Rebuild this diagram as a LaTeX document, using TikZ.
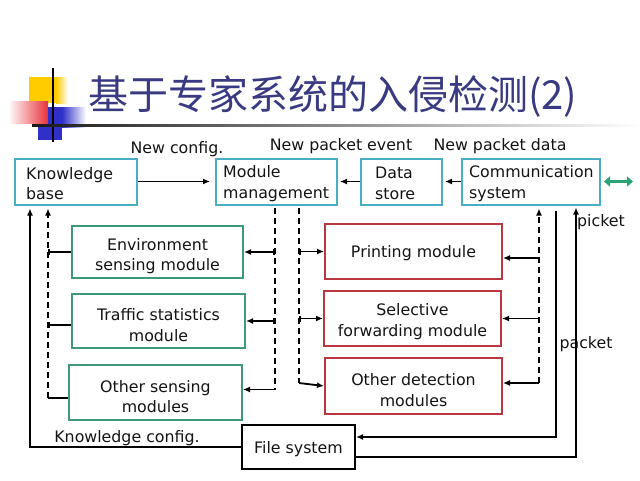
\documentclass[tikz,border=0pt]{standalone}
\usepackage{fontspec}
\setmainfont{DejaVu Sans}
\newfontfamily\cjk{Noto Sans CJK SC}
\usetikzlibrary{arrows.meta,calc}
\definecolor{teal1}{RGB}{75,172,198}
\definecolor{green1}{RGB}{62,152,122}
\definecolor{red1}{RGB}{185,55,62}
\definecolor{green2}{RGB}{40,165,115}
\definecolor{titlecol}{RGB}{58,58,130}
\definecolor{yel}{RGB}{255,204,0}
\definecolor{redl}{RGB}{232,50,60}
\definecolor{bluel}{RGB}{48,48,200}
\definecolor{txt}{RGB}{20,20,20}
\newcommand{\fs}{\fontsize{15.8}{20.5}\selectfont}
\begin{document}
\begin{tikzpicture}[x=1pt,y=-1pt,
  box/.style={draw, line width=2pt, inner sep=0pt},
  tbox/.style={box, draw=teal1},
  gbox/.style={box, draw=green1},
  rbox/.style={box, draw=red1},
  btxt/.style={font=\fs, text=txt, inner sep=0pt, align=center},
  ltxt/.style={font=\fs, text=txt, inner sep=0pt, align=left},
  lbl/.style={font=\fs, text=txt, inner sep=0pt},
  conn/.style={line width=1.8pt, black},
  arr/.style={conn, -{Latex[length=7pt,width=6pt]}},
  barr/.style={conn, {Bar[width=6pt]}-{Latex[length=7pt,width=6pt]}},
  dline/.style={conn, dash pattern=on 6pt off 4pt},
  garrow/.style={green2, line width=3.5pt, {Triangle[length=6pt,width=10pt]}-{Triangle[length=6pt,width=10pt]}}
]
\fill[white] (0,0) rectangle (640,480);
\useasboundingbox (0,0) rectangle (640,480);

% logo
\fill[yel] (29,77) rectangle (56,103);
\shade[left color=yel, right color=white] (56,77) rectangle (68,103);
\shade[left color=white, right color=redl] (8,101) rectangle (48,123);
\fill[bluel] (48,107) rectangle (62,140);
\fill[bluel] (38,127) rectangle (48,140);
\shade[left color=bluel, right color=white] (62,107) rectangle (86,127);
\draw[line width=1.5pt] (53,68) -- (53,142);
\shade[left color=black!90, middle color=black!55, right color=white] (32,124.5) rectangle (640,126.3);

% title
\node[anchor=base west, inner sep=0pt, text=titlecol, font=\cjk\fontsize{40}{40}\selectfont] (title) at (88,109) {基于专家系统的入侵检测(2)};

% top boxes
\node[tbox, minimum width=122pt, minimum height=46pt] (kb) at (76,181.5) {};
\node[ltxt, anchor=west] (kbt) at ([xshift=12pt,yshift=-2pt]kb.west) {Knowledge\\base};
\node[tbox, minimum width=121pt, minimum height=46pt] (mm) at (276.5,181.5) {};
\node[ltxt, anchor=west] (mmt) at ([xshift=8pt,yshift=-2pt]mm.west) {Module\\management};
\node[tbox, minimum width=81pt, minimum height=46pt] (ds) at (401.5,181.5) {};
\node[ltxt, anchor=west] (dst) at ([xshift=15pt,yshift=-2pt]ds.west) {Data\\store};
\node[tbox, minimum width=138pt, minimum height=46pt] (cs) at (531,181.5) {};
\node[ltxt, anchor=west] (cst) at ([xshift=8pt,yshift=-2pt]cs.west) {Communication\\system};

% green boxes
\node[gbox, minimum width=171pt, minimum height=52pt] (env) at (157.5,252) {};
\node[btxt] (envt) at ([yshift=-4pt]env.center) {Environment\\sensing module};
\node[gbox, minimum width=173pt, minimum height=54pt] (tra) at (158.5,321) {};
\node[btxt] (trat) at ([yshift=-4pt]tra.center) {Traffic statistics\\module};
\node[gbox, minimum width=173pt, minimum height=55pt] (oths) at (155.5,392.5) {};
\node[btxt] (othst) at ([yshift=-4pt]oths.center) {Other sensing\\modules};

% red boxes
\node[rbox, minimum width=177pt, minimum height=55pt] (prt) at (413.5,251.5) {};
\node[btxt] (prtt) at ([yshift=-2pt]prt.center) {Printing module};
\node[rbox, minimum width=177pt, minimum height=55pt] (sel) at (412.5,318.5) {};
\node[btxt] (selt) at ([yshift=-3pt]sel.center) {Selective\\forwarding module};
\node[rbox, minimum width=177pt, minimum height=56pt] (othd) at (413.5,386) {};
\node[btxt] (othdt) at ([yshift=-4pt]othd.center) {Other detection\\modules};

% file system
\node[box, draw=black, minimum width=113pt, minimum height=44pt] (fs) at (298.5,447) {};
\node[btxt] (fst) at ([yshift=-2pt]fs.center) {File system};

% labels
\node[lbl] (l1) at (177,149) {New config.};
\node[lbl] (l2) at (341,146) {New packet event};
\node[lbl] (l3) at (500,146) {New packet data};
\node[lbl] (l4) at (127,438) {Knowledge config.};
\node[lbl] (l5) at (601,222) {picket};
\node[lbl] (l6) at (586,344) {packet};

% top arrows
\draw[arr, shorten >=5pt] (kb.east) -- (mm.west);
\draw[arr, shorten >=2pt] (ds.west) -- (mm.east);
\draw[arr, shorten >=2pt] (cs.west) -- (ds.east);
\coordinate (ga) at ([xshift=3pt]cs.east);
\coordinate (gb) at ([xshift=32pt]cs.east);
\draw[garrow] (ga) -- (gb);

% left solid line (knowledge config)
\draw[arr, shorten >=3pt] (fs.west) -| ([xshift=16pt]kb.south west);

% left dashed collector
\path (oths.west) ++(0,5.5) coordinate (othsL);
\coordinate (ldb) at ([xshift=-20pt]othsL);
\draw[conn] (othsL) -- (ldb);
\draw[dline, -{Latex[length=7pt,width=6pt]}, shorten >=3pt] (ldb) -- (ldb |- kb.south);
\draw[conn, -{Bar[width=6pt]}] (env.west) -- (env.west -| ldb);
\path (tra.west) ++(0,4) coordinate (traL);
\draw[conn, -{Bar[width=6pt]}] (traL) -- (traL -| ldb);

% middle-left dashed distributor
\coordinate (mdt) at ([xshift=-1.5pt,yshift=-2pt]mm.south);
\path (oths.east) ++(0,-3) coordinate (othsR);
\draw[dline] (mdt) -- (mdt |- othsR);
\draw[arr] (mdt |- othsR) -- (othsR);
\draw[barr] (mdt |- env.east) -- (env.east);
\draw[barr] (mdt |- tra.east) -- (tra.east);

% middle-right dashed distributor
\coordinate (mrt) at ([xshift=22.5pt,yshift=-2pt]mm.south);
\path (othd.west) ++(0,-3) coordinate (othdL);
\draw[dline] (mrt) -- (mrt |- othdL);
\draw[arr] (mrt |- othdL) -- (othd.west);
\draw[barr] (mrt |- prt.west) -- (prt.west);
\draw[barr] (mrt |- sel.west) -- (sel.west);

% right dashed collector
\coordinate (rdt) at ([xshift=8pt]cs.south);
\path (othd.east) ++(0,-3) coordinate (othdR);
\draw[dline, -{Latex[length=7pt,width=6pt]}, shorten >=3pt] (othdR -| rdt) -- (rdt);
\draw[arr] (othdR -| rdt) -- (othdR);
\path (prt.east) ++(0,6.5) coordinate (prtR);
\draw[arr] (prtR -| rdt) -- (prtR);
\draw[arr] (sel.east -| rdt) -- (sel.east);

% right solid lines
\coordinate (s1) at ([xshift=25pt,yshift=-5pt]cs.south);
\path (fs.east) ++(0,-10) coordinate (fsR1);
\draw[arr] (s1) |- (fsR1);
\coordinate (s2) at ([xshift=45pt]cs.south);
\path (fs.east) ++(0,10) coordinate (fsR2);
\draw[arr, shorten >=2pt] (fsR2) -| (s2);
\end{tikzpicture}
\end{document}
